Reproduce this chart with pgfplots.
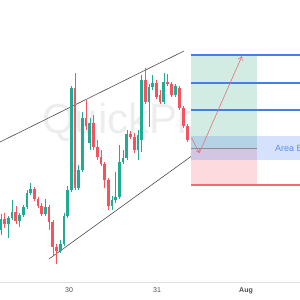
\documentclass[border=0pt]{standalone}
\usepackage{pgfplots}
\pgfplotsset{compat=1.18}
\usepackage{pgfplotstable}
\usepackage{fontspec}
\setmainfont{Liberation Sans}
\usetikzlibrary{arrows.meta}
\definecolor{cgreen}{HTML}{22AB94}
\definecolor{cred}{HTML}{F7525F}
\definecolor{tealz}{HTML}{D2ECE4}
\definecolor{pinkz}{HTML}{FCDADE}
\definecolor{bluez}{HTML}{5B8DEF}
\definecolor{bline}{HTML}{4A7DE0}
\definecolor{rline}{HTML}{F26B73}
\definecolor{arrowc}{HTML}{E0707C}

\pgfplotstableread{
x o c h l
1 70 81 86 65
8.4 76 82 84 62
12.1 82 88 100 80
19.5 79 85 87 73
23.2 85 93 95 83
26.9 93 107 110 91
30.6 107 111 117 105
45.4 86 93 101 84
60.2 49 56 60 47
63.9 56 84 87 54
67.6 84 110 114 82
71.3 110 212 214 108
78.7 112 130 135 110
82.4 130 182 188 128
89.8 157 177 182 150
112.0 94 100 104 90
115.7 100 103 128 97
119.4 103 138 155 101
123.1 138 142 150 136
126.8 142 166 170 140
137.9 150 165 170 140
141.6 160 220 225 148
149.0 198 213 216 173
152.7 213 217 225 210
163.8 198 218 227 196
175.5 205 214 216 203
}\greencandles

\pgfplotstableread{
x o c h l
4.7 81 76 87 72
15.8 88 79 94 76
34.3 111 101 113 99
38.0 101 94 103 92
41.7 94 86 97 84
49.1 93 78 95 70
52.8 78 53 80 45
56.5 53 49 56 36
75.0 212 112 227 110
86.1 182 174 200 170
93.5 177 153 185 150
97.2 153 143 160 140
100.9 143 136 150 134
104.6 136 120 138 112
108.3 120 94 122 90
130.5 166 163 169 161
134.2 163 150 167 147
145.3 220 198 232 196
156.4 217 203 220 201
160.1 205 198 210 196
167.5 218 216 226 214
171.2 216 205 218 203
179.3 212 192 214 190
183.5 192 174 194 172
187.5 174 160 176 158
}\redcandles

\begin{document}
\begin{tikzpicture}
\clip (0,0) rectangle (300pt,300pt);
\begin{axis}[
  at={(0pt,18pt)}, anchor=south west,
  scale only axis, width=300pt, height=282pt,
  xmin=0, xmax=300, ymin=18, ymax=300,
  axis x line*=bottom, axis y line=none,
  x axis line style={draw=black!12, line width=0.6pt, -},
  xtick={69,157,246},
  xticklabels={30,31,\textbf{Aug}},
  major tick length=0pt,
  xticklabel style={font=\fontsize{7}{8}\selectfont, text=black!70, yshift=-2.5pt},
  ytick=\empty,
  clip=false,
  candle/.style={only marks, mark=*, mark size=0pt, mark options={draw=none, fill=none},
    error bars/.cd, y dir=both, y explicit, error mark=none},
]
% watermark
\node[anchor=base west, text=black!7, font=\fontsize{42}{44}\selectfont, inner sep=0pt] at (axis cs:42,166) {QuickPro};

% trend channel
\addplot[black!70, line width=0.6pt] coordinates {(0,158) (184,249)};
\addplot[black!70, line width=0.6pt] coordinates {(49,41) (218,163)};

% wicks
\addplot[candle, error bar style={line width=0.6pt, color=cgreen}]
  table[x=x, y expr={(\thisrow{h}+\thisrow{l})/2}, y error expr={(\thisrow{h}-\thisrow{l})/2}] {\greencandles};
\addplot[candle, error bar style={line width=0.6pt, color=cred}]
  table[x=x, y expr={(\thisrow{h}+\thisrow{l})/2}, y error expr={(\thisrow{h}-\thisrow{l})/2}] {\redcandles};
% bodies
\addplot[candle, error bar style={line width=2.7pt, color=cgreen}]
  table[x=x, y expr={(\thisrow{o}+\thisrow{c})/2}, y error expr={max(abs(\thisrow{o}-\thisrow{c})/2,0.6)}] {\greencandles};
\addplot[candle, error bar style={line width=2.7pt, color=cred}]
  table[x=x, y expr={(\thisrow{o}+\thisrow{c})/2}, y error expr={max(abs(\thisrow{o}-\thisrow{c})/2,0.6)}] {\redcandles};

% position zones
\addplot[fill=tealz, draw=none] coordinates {(191,152) (257,152) (257,245) (191,245)} -- cycle;
\addplot[fill=pinkz, draw=none] coordinates {(191,115) (257,115) (257,152) (191,152)} -- cycle;
\addplot[fill=bluez, fill opacity=0.25, draw=none] coordinates {(191,140) (300,140) (300,164) (191,164)} -- cycle;
\addplot[black!45, line width=0.6pt] coordinates {(191,152) (257,152)};
\addplot[bline, line width=1.2pt] coordinates {(191,245) (300,245)};
\addplot[bline, line width=1.2pt] coordinates {(191,217) (300,217)};
\addplot[bline, line width=1.2pt] coordinates {(191,190) (300,190)};
\addplot[rline, line width=1.4pt] coordinates {(191,115) (300,115)};
\node[anchor=base west, text=bluez, font=\fontsize{9}{10}\selectfont, inner sep=0pt] at (axis cs:275,148.3) {Area Entry};

% projected path
\addplot[arrowc, line width=0.6pt, -{Straight Barb[length=3pt,width=4pt]}] coordinates {(191.7,162) (199.3,147)};
\addplot[arrowc, line width=0.6pt, -{Straight Barb[length=4pt,width=5pt]}] coordinates {(199.3,147) (242,244)};
\end{axis}
\end{tikzpicture}
\end{document}
